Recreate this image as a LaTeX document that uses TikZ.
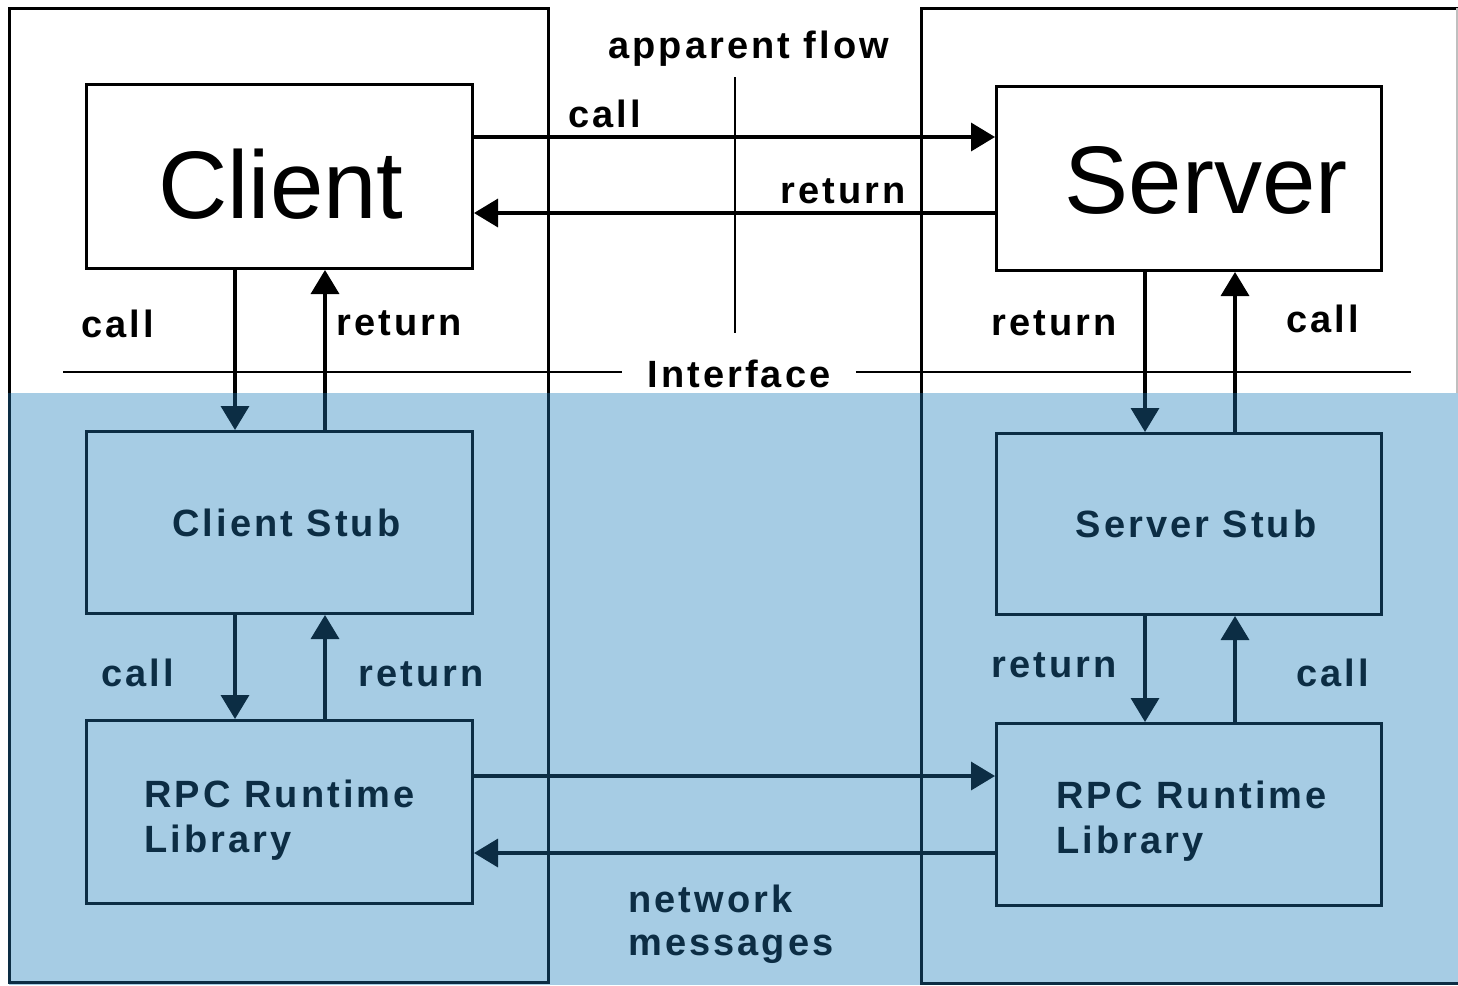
\documentclass[tikz,border=0pt]{standalone}
\usepackage{fontspec}
\setmainfont{Liberation Sans}
\newfontfamily\lblfont[LetterSpace=8]{Liberation Sans}
\usetikzlibrary{arrows.meta}
\definecolor{bgblue}{RGB}{166,204,228}
\definecolor{navy}{RGB}{12,45,68}
\begin{document}
\begin{tikzpicture}[x=1pt,y=-1pt, line width=3pt,
  lbl/.style={font=\lblfont\bfseries\fontsize{38}{44}\selectfont, inner sep=0pt, anchor=base west},
  big/.style={font=\fontsize{96}{100}\selectfont, inner sep=0pt, anchor=base},
  box/.style={draw, minimum width=386pt, minimum height=184pt, inner sep=0pt, anchor=north west},
  arr/.style={-{Triangle[length=24pt,width=28pt]}},
]
\useasboundingbox (0,0) rectangle (1458,985);
% lower shaded half
\fill[bgblue] (9,393) rectangle (1458,985);

% client region frame
\draw[line cap=rect] (9,393) -- (9,8) -- (548,8) -- (548,393);
\draw[navy] (9,393) -- (9,982) -- (548,982) -- (548,393);
% server region frame
\draw[line cap=rect] (921,393) -- (921,8) -- (1457,8);
\draw[black!25, line width=1.5pt] (1457,8) -- (1457,393);
\draw[navy] (921,393) -- (921,985);
\draw[navy] (921,983) -- (1458,983);

% boxes
\node[box] (client) at (85,83) {};
\node[big] (clienttxt) at (281,218) {Client};
\node[box, minimum width=385pt] (server) at (995,85) {};
\node[big] (servertxt) at (1206,213) {Server};

\node[box, navy, minimum height=182pt, text=navy, font=\lblfont\bfseries\fontsize{38}{44}\selectfont] (cstub) at (85,430) {\hspace*{14pt}Client Stub};
\node[box, navy, minimum width=385pt, minimum height=181pt, text=navy, font=\lblfont\bfseries\fontsize{38}{44}\selectfont] (sstub) at (995,432) {\hspace*{14pt}Server Stub};
\node[box, navy, minimum height=183pt] (clib) at (85,719) {};
\node[box, navy, minimum width=385pt, minimum height=182pt] (slib) at (995,722) {};
\node[lbl, text=navy] (cliba) at (143,807) {RPC Runtime};
\node[lbl, text=navy] (clibb) at (143,852) {Library};
\node[lbl, text=navy] (sliba) at (1055,808) {RPC Runtime};
\node[lbl, text=navy] (slibb) at (1055,853) {Library};

% apparent flow
\draw[line width=3.5pt, arr] (client.east |- 0,137) -- (server.west |- 0,137);
\draw[line width=3.5pt, arr] (server.west |- 0,213) -- (client.east |- 0,213);
\node[lbl] (callA) at (567,127) {call};
\node[lbl] (retA) at (779,203) {return};
\node[lbl] (appflow) at (607,58) {apparent flow};
\coordinate (afTop) at (735,77);
\coordinate (afBot) at (735,333);
\draw[line width=2.2pt] (afTop) -- (afBot);

% interface
\node[lbl, anchor=base, inner xsep=24pt] (iface) at (739,387) {Interface};
\coordinate (ifl) at (63,372);
\coordinate (ifr) at (1411,372);
\draw[line width=2.5pt] (ifl) -- (ifl -| iface.west);
\draw[line width=2.5pt] (iface.east |- ifr) -- (ifr);

% client <-> client stub
\coordinate (c1) at (235,393);
\coordinate (c2) at (325,393);
\draw[line width=3.5pt] (client.south -| c1) -- (c1);
\draw[line width=3.5pt, navy, arr] (c1) -- (cstub.north -| c1);
\draw[line width=3.5pt, navy] (cstub.north -| c2) -- (c2);
\draw[line width=3.5pt, arr] (c2) -- (client.south -| c2);
\node[lbl] (callB) at (80,337) {call};
\node[lbl] (retB) at (335,335) {return};

% server <-> server stub
\coordinate (s1) at (1145,393);
\coordinate (s2) at (1235,393);
\draw[line width=3.5pt] (server.south -| s1) -- (s1);
\draw[line width=3.5pt, navy, arr] (s1) -- (sstub.north -| s1);
\draw[line width=3.5pt, navy] (sstub.north -| s2) -- (s2);
\draw[line width=3.5pt, arr] (s2) -- (server.south -| s2);
\node[lbl] (retC) at (990,335) {return};
\node[lbl] (callC) at (1285,332) {call};

% stubs <-> libraries
\draw[line width=3.5pt, navy, arr] (cstub.south -| c1) -- (clib.north -| c1);
\draw[line width=3.5pt, navy, arr] (clib.north -| c2) -- (cstub.south -| c2);
\draw[line width=3.5pt, navy, arr] (sstub.south -| s1) -- (slib.north -| s1);
\draw[line width=3.5pt, navy, arr] (slib.north -| s2) -- (sstub.south -| s2);
\node[lbl, text=navy] (callD) at (100,686) {call};
\node[lbl, text=navy] (retD) at (357,686) {return};
\node[lbl, text=navy] (retE) at (990,677) {return};
\node[lbl, text=navy] (callE) at (1295,686) {call};

% network messages
\draw[line width=3.5pt, navy, arr] (clib.east |- 0,776) -- (slib.west |- 0,776);
\draw[line width=3.5pt, navy, arr] (slib.west |- 0,853) -- (clib.east |- 0,853);
\node[lbl, text=navy] (netA) at (627,912) {network};
\node[lbl, text=navy] (netB) at (627,955) {messages};
\end{tikzpicture}
\end{document}
